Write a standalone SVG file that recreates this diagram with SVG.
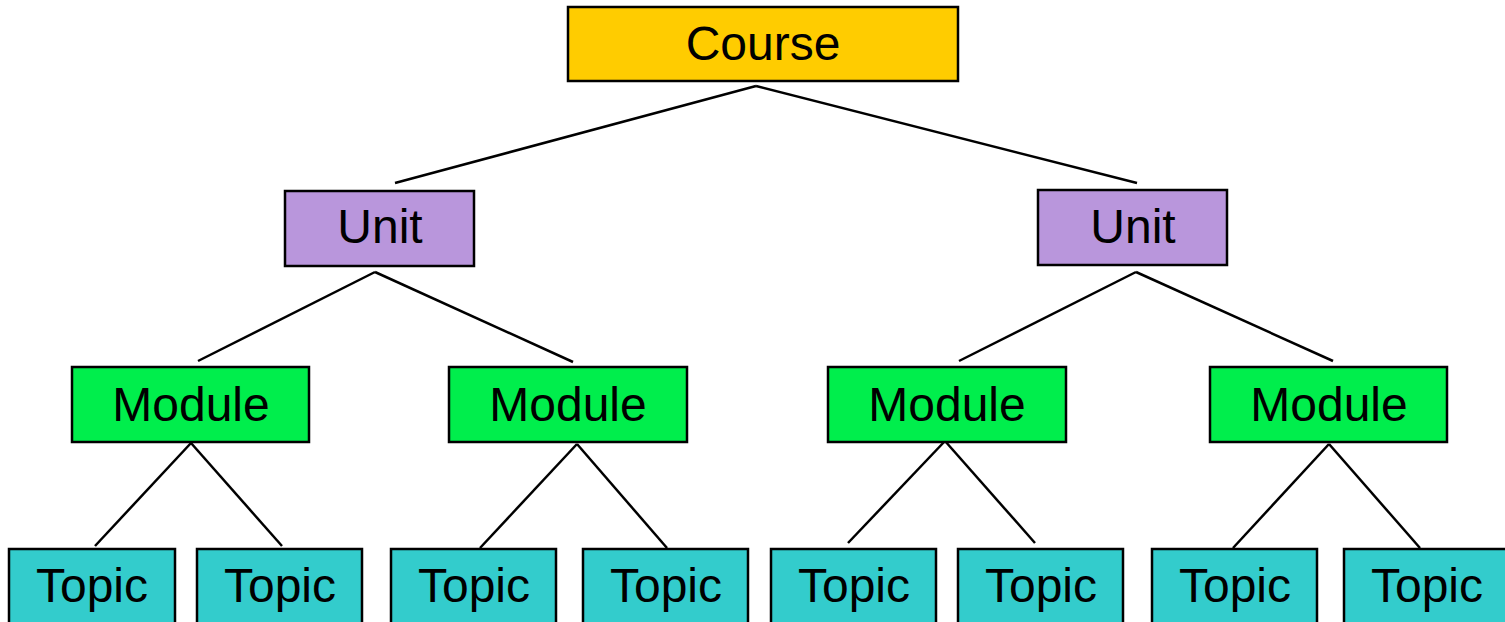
<svg xmlns="http://www.w3.org/2000/svg" width="1505" height="622" viewBox="0 0 1505 622">
<style>
.box{stroke:#000;stroke-width:2.5}
.course{fill:#FFCC00}
.unit{fill:#B996DC}
.module{fill:#00EE4C}
.topic{fill:#33CCCC}
text{font-family:"Liberation Sans",Arial,sans-serif;font-size:48px;fill:#000;text-anchor:middle}
.conn line{stroke:#000;stroke-width:2.5}
</style>
<rect width="1505" height="622" fill="#fff"/>
<g class="conn" id="connectors">
<line x1="756" y1="86" x2="395" y2="183"/>
<line x1="756" y1="86" x2="1137" y2="183"/>
<line x1="375" y1="272" x2="198" y2="361"/>
<line x1="375" y1="272" x2="573" y2="362"/>
<line x1="1136" y1="272" x2="959" y2="361"/>
<line x1="1136" y1="272" x2="1333" y2="361"/>
<line x1="191" y1="443" x2="95" y2="546"/>
<line x1="191" y1="443" x2="282" y2="546"/>
<line x1="577" y1="444" x2="480" y2="548"/>
<line x1="577" y1="444" x2="667" y2="548"/>
<line x1="945" y1="441" x2="848" y2="543"/>
<line x1="945" y1="441" x2="1035" y2="543"/>
<line x1="1329" y1="444" x2="1233" y2="548"/>
<line x1="1329" y1="444" x2="1420" y2="548"/>
</g>
<g id="course"><rect class="box course" x="568" y="7" width="390" height="74"/><text x="763" y="60">Course</text></g>
<g id="unit1"><rect class="box unit" x="285" y="191" width="189" height="75"/><text x="380" y="243">Unit</text></g>
<g id="unit2"><rect class="box unit" x="1038" y="190" width="189" height="75"/><text x="1133" y="243">Unit</text></g>
<g id="module1"><rect class="box module" x="72" y="367" width="237" height="75"/><text x="191" y="421">Module</text></g>
<g id="module2"><rect class="box module" x="449" y="367" width="238" height="75"/><text x="568" y="421">Module</text></g>
<g id="module3"><rect class="box module" x="828" y="367" width="238" height="75"/><text x="947" y="421">Module</text></g>
<g id="module4"><rect class="box module" x="1210" y="367" width="237" height="75"/><text x="1329" y="421">Module</text></g>
<g id="topic1"><rect class="box topic" x="9" y="549" width="166" height="80"/><text x="92" y="602">Topic</text></g>
<g id="topic2"><rect class="box topic" x="197" y="549" width="165" height="80"/><text x="280" y="602">Topic</text></g>
<g id="topic3"><rect class="box topic" x="391" y="549" width="165" height="80"/><text x="474" y="602">Topic</text></g>
<g id="topic4"><rect class="box topic" x="583" y="549" width="165" height="80"/><text x="666" y="602">Topic</text></g>
<g id="topic5"><rect class="box topic" x="771" y="549" width="165" height="80"/><text x="854" y="602">Topic</text></g>
<g id="topic6"><rect class="box topic" x="958" y="549" width="165" height="80"/><text x="1041" y="602">Topic</text></g>
<g id="topic7"><rect class="box topic" x="1152" y="549" width="165" height="80"/><text x="1235" y="602">Topic</text></g>
<g id="topic8"><rect class="box topic" x="1344" y="549" width="165" height="80"/><text x="1427" y="602">Topic</text></g>
</svg>
